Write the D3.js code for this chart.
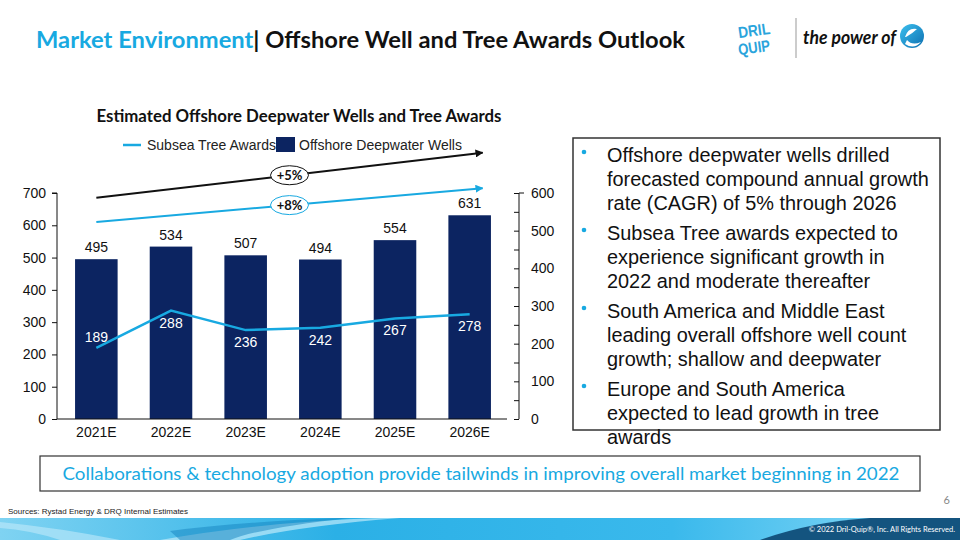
<!DOCTYPE html>
<html lang="en">
<head>
  <meta charset="UTF-8" />
  <title>Offshore Well and Tree Awards Outlook</title>
  <style>
    body { margin: 0; overflow: hidden; background: #fff; }
    svg { position: absolute; top: 0; left: 0; }
    .arial { font-family: "Liberation Sans", Arial, sans-serif; }
    .cal { font-family: Lato, "Open Sans", sans-serif; }
  </style>
</head>
<body>

<svg id="slide"></svg>

<script src="https://d3js.org/d3.v7.min.js"></script>
<script>
  const width = 960, height = 540;

  // chart data
  const years = ["2021E", "2022E", "2023E", "2024E", "2025E", "2026E"];
  const wells = [495, 534, 507, 494, 554, 631];
  const trees = [189, 288, 236, 242, 267, 278];
  const leftTicks = [0, 100, 200, 300, 400, 500, 600, 700];
  const rightTicks = [0, 50, 100, 150, 200, 250, 300, 350, 400, 450, 500, 550, 600];
  const cagrLabels = ["+5%", "+8%"];
  const cagrFrom = [685, 610];   // on left axis units
  const cagrTo = [825, 715];

  const bullets = [
    ["Offshore deepwater wells drilled", "forecasted compound annual growth", "rate (CAGR) of 5% through 2026"],
    ["Subsea Tree awards expected to", "experience significant growth in", "2022 and moderate thereafter"],
    ["South America and Middle East", "leading overall offshore well count", "growth; shallow and deepwater"],
    ["Europe and South America", "expected to lead growth in tree", "awards"]
  ];

  const blue = "#18a9e1", navy = "#0c2461";
  const fs = 14;

  const svg = d3.select("#slide").attr("width", width).attr("height", height);
  const defs = svg.append("defs");

  // ---- header ----
  const title = svg.append("text").attr("class", "cal")
    .attr("x", 36).attr("y", 48)
    .attr("font-size", 22).attr("font-weight", "bold")
    .attr("textLength", 649).attr("lengthAdjust", "spacingAndGlyphs");
  title.append("tspan").attr("fill", blue).text("Market Environment");
  title.append("tspan").attr("fill", "#111").text("| Offshore Well and Tree Awards Outlook");

  // logo
  const logo = svg.append("g");
  ["DRIL", "QUIP"].forEach((t, i) => {
    logo.append("text").attr("class", "arial")
      .attr("x", 754).attr("y", 36 + i * 17)
      .attr("text-anchor", "middle")
      .attr("font-size", 16).attr("font-weight", "bold")
      .attr("fill", "#2aa4dc")
      .attr("transform", `rotate(-8 754 ${30 + i * 17})`)
      .attr("textLength", 32).attr("lengthAdjust", "spacingAndGlyphs")
      .text(t);
  });
  logo.append("line").attr("x1", 796).attr("x2", 796).attr("y1", 18).attr("y2", 58)
    .attr("stroke", "#999").attr("stroke-width", 1);
  logo.append("text").attr("class", "cal")
    .attr("x", 803).attr("y", 44)
    .attr("font-size", 18).attr("font-weight", "bold").attr("font-style", "italic")
    .attr("fill", "#111")
    .attr("textLength", 93).attr("lengthAdjust", "spacingAndGlyphs")
    .text("the power of");
  const eg = defs.append("linearGradient").attr("id", "eg").attr("x1", 0).attr("x2", 1).attr("y1", 0).attr("y2", 1);
  eg.append("stop").attr("offset", "0%").attr("stop-color", "#3cc0ef");
  eg.append("stop").attr("offset", "100%").attr("stop-color", "#0d6fb0");
  logo.append("circle").attr("cx", 912).attr("cy", 36).attr("r", 12).attr("fill", "url(#eg)");
  logo.append("path")
    .attr("d", "M905,37 Q908,27 917,29 Q913,33 906,37 Z M907,40 Q912,46 921,42 Q914,50 905,44 Z")
    .attr("fill", "#fff");

  // ---- chart ----
  const x = d3.scaleBand().domain(years).range([59, 507]).paddingInner(0.43).paddingOuter(0.215);
  const yL = d3.scaleLinear().domain([0, 700]).range([419, 193]);
  const yR = d3.scaleLinear().domain([0, 600]).range([419, 193]);

  svg.append("text").attr("class", "cal")
    .attr("x", 299).attr("y", 122)
    .attr("text-anchor", "middle")
    .attr("font-size", 16.5).attr("font-weight", "bold").attr("fill", "#111")
    .attr("textLength", 405).attr("lengthAdjust", "spacingAndGlyphs")
    .text("Estimated Offshore Deepwater Wells and Tree Awards");

  // legend
  const lg = svg.append("g").attr("class", "arial").attr("font-size", fs).attr("fill", "#222");
  lg.append("line").attr("x1", 123).attr("x2", 141).attr("y1", 145).attr("y2", 145)
    .attr("stroke", blue).attr("stroke-width", 2.5);
  lg.append("text").attr("x", 147).attr("y", 150).text("Subsea Tree Awards");
  lg.append("rect").attr("x", 276).attr("y", 137).attr("width", 19).attr("height", 15).attr("fill", navy);
  lg.append("text").attr("x", 299).attr("y", 150).text("Offshore Deepwater Wells");

  // bars
  svg.append("g").selectAll("rect")
    .data(wells)
    .join("rect")
    .attr("x", (d, i) => x(years[i]))
    .attr("y", d => yL(d))
    .attr("width", x.bandwidth())
    .attr("height", d => yL(0) - yL(d))
    .attr("fill", navy);

  svg.append("g").attr("class", "arial").attr("font-size", fs).attr("fill", "#111")
    .selectAll("text")
    .data(wells)
    .join("text")
    .attr("x", (d, i) => x(years[i]) + x.bandwidth() / 2)
    .attr("y", d => yL(d) - 7)
    .attr("text-anchor", "middle")
    .text(d => d);

  // left axis
  const axL = svg.append("g").attr("transform", "translate(57,0)")
    .call(d3.axisLeft(yL).tickValues(leftTicks).tickSize(5).tickPadding(6));
  axL.selectAll("text").attr("font-size", fs).attr("fill", "#111").attr("font-family", "Liberation Sans, Arial, sans-serif");
  axL.selectAll("line, path").attr("stroke", "#111");
  axL.select(".domain").attr("d", "M-5,193H0V419");

  // right axis
  const axR = svg.append("g").attr("transform", "translate(519,0)")
    .call(d3.axisRight(yR).tickValues(rightTicks).tickSize(-5).tickPadding(12)
      .tickFormat(d => d % 100 === 0 ? d : ""));
  axR.selectAll("text").attr("font-size", fs).attr("fill", "#111").attr("font-family", "Liberation Sans, Arial, sans-serif");
  axR.selectAll("line, path").attr("stroke", "#111");
  axR.select(".domain").attr("d", "M5,193H0V419");

  // x axis
  const axX = svg.append("g").attr("transform", "translate(0,419)")
    .call(d3.axisBottom(x).tickSize(0).tickPadding(8));
  axX.select(".domain").attr("d", "M57,0H507").attr("stroke", "#111");
  axX.selectAll("text").attr("font-size", fs).attr("fill", "#111").attr("font-family", "Liberation Sans, Arial, sans-serif");

  // tree line
  const line = d3.line().x((d, i) => x(years[i]) + x.bandwidth() / 2).y(d => yR(d));
  svg.append("path").datum(trees)
    .attr("d", line)
    .attr("fill", "none").attr("stroke", blue).attr("stroke-width", 2.5);

  svg.append("g").attr("class", "arial").attr("font-size", fs).attr("fill", "#fff")
    .selectAll("text")
    .data(trees)
    .join("text")
    .attr("x", (d, i) => x(years[i]) + x.bandwidth() / 2)
    .attr("y", (d, i) => yR(d) + (i === 0 ? -6 : 17))
    .attr("text-anchor", "middle")
    .text(d => d);

  // CAGR arrows
  const cagrColors = ["#111", blue];
  cagrColors.forEach((c, i) => {
    defs.append("marker").attr("id", "ah" + i)
      .attr("viewBox", "0 0 10 10").attr("refX", 9).attr("refY", 5)
      .attr("markerWidth", 4).attr("markerHeight", 4).attr("orient", "auto")
      .append("path").attr("d", "M0,0L10,5L0,10Z").attr("fill", c);
  });
  const xs = x(years[0]) + x.bandwidth() / 2;
  const xe = x(years[years.length - 1]) + x.bandwidth() / 2 + 13;
  cagrLabels.forEach((lab, i) => {
    const y1 = yL(cagrFrom[i]), y2 = yL(cagrTo[i]);
    svg.append("line")
      .attr("x1", xs).attr("y1", y1).attr("x2", xe).attr("y2", y2)
      .attr("stroke", cagrColors[i]).attr("stroke-width", 2)
      .attr("marker-end", `url(#ah${i})`);
    const mx = (xs + xe) / 2, my = (y1 + y2) / 2;
    svg.append("ellipse").attr("cx", mx).attr("cy", my).attr("rx", 19).attr("ry", 9.5)
      .attr("fill", "#fff").attr("stroke", cagrColors[i]).attr("stroke-width", 1);
    svg.append("text").attr("class", "cal")
      .attr("x", mx).attr("y", my + 4.5)
      .attr("text-anchor", "middle")
      .attr("font-size", 13).attr("font-weight", "bold").attr("fill", "#111")
      .text(lab);
  });

  // ---- bullet box ----
  svg.append("rect").attr("x", 573).attr("y", 138).attr("width", 367).attr("height", 292)
    .attr("fill", "none").attr("stroke", "#333").attr("stroke-width", 1.5);
  const bg = svg.append("g").attr("class", "arial").attr("font-size", 19.9).attr("fill", "#111");
  let by = 162;
  bullets.forEach(group => {
    bg.append("circle").attr("cx", 584).attr("cy", by - 10).attr("r", 2.3).attr("fill", blue);
    group.forEach((t, j) => {
      bg.append("text").attr("x", 607).attr("y", by + j * 24).text(t);
    });
    by += group.length * 24 + 6;
  });

  // ---- takeaway box ----
  svg.append("rect").attr("x", 40).attr("y", 456).attr("width", 880).attr("height", 35)
    .attr("fill", "#fff").attr("stroke", "#333").attr("stroke-width", 1.2);
  svg.append("text").attr("class", "cal")
    .attr("x", 481).attr("y", 480)
    .attr("text-anchor", "middle").attr("font-size", 17).attr("fill", blue)
    .attr("textLength", 837).attr("lengthAdjust", "spacingAndGlyphs")
    .text("Collaborations & technology adoption provide tailwinds in improving overall market beginning in 2022");

  // ---- footer ----
  svg.append("text").attr("class", "arial")
    .attr("x", 8).attr("y", 514).attr("font-size", 8).attr("fill", "#222")
    .text("Sources: Rystad Energy & DRQ Internal Estimates");
  svg.append("text").attr("class", "cal")
    .attr("x", 950).attr("y", 504).attr("text-anchor", "end")
    .attr("font-size", 11).attr("fill", "#888").text("6");

  const fg = defs.append("linearGradient").attr("id", "fg").attr("x1", 0).attr("x2", 1).attr("y1", 0).attr("y2", 0);
  fg.append("stop").attr("offset", "0%").attr("stop-color", "#7fd3f2");
  fg.append("stop").attr("offset", "35%").attr("stop-color", "#2bb0e6");
  fg.append("stop").attr("offset", "70%").attr("stop-color", "#3ab9ec");
  fg.append("stop").attr("offset", "100%").attr("stop-color", "#8fdcf7");
  svg.append("rect").attr("x", 0).attr("y", 518).attr("width", width).attr("height", 22).attr("fill", "url(#fg)");
  svg.append("path")
    .attr("d", "M160,540 Q260,522 380,518 L400,518 Q300,526 240,540 Z")
    .attr("fill", "#bfeafa").attr("opacity", 0.7);
  svg.append("path")
    .attr("d", "M0,522 Q60,528 120,540 L60,540 Q30,530 0,528 Z")
    .attr("fill", "#bfeafa").attr("opacity", 0.6);
  svg.append("path")
    .attr("d", "M170,531 Q240,522 340,518 L350,518 Q260,528 230,540 L180,540 Z")
    .attr("fill", "#1583bf").attr("opacity", 0.5);
  svg.append("path")
    .attr("d", "M760,540 Q810,522 870,518 L960,518 L960,540 Z")
    .attr("fill", "#14547f");
  svg.append("text").attr("class", "cal")
    .attr("x", 955).attr("y", 532).attr("text-anchor", "end")
    .attr("font-size", 7.5).attr("fill", "#fff")
    .text("© 2022 Dril-Quip®, Inc. All Rights Reserved.");
</script>

</body>
</html>
